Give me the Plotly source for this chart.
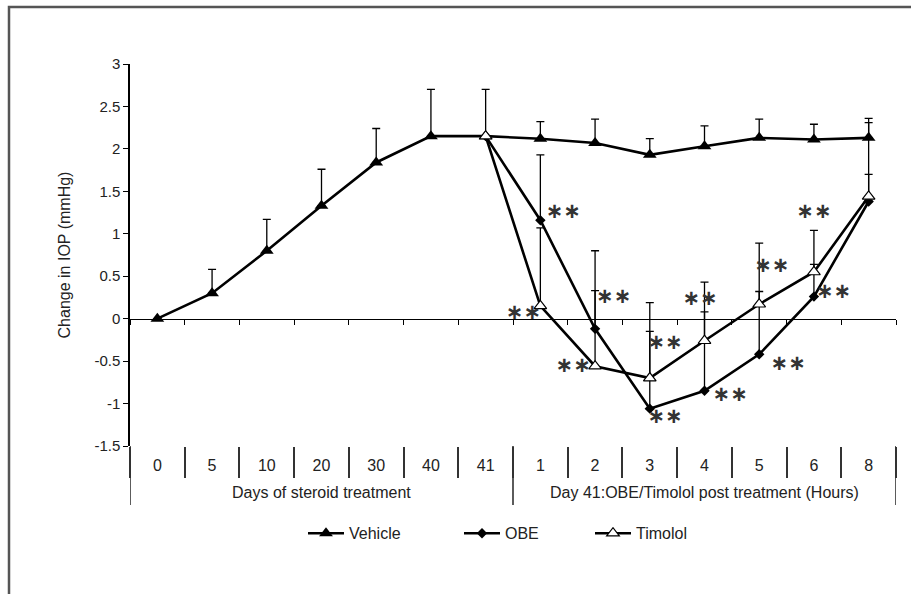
import plotly.graph_objects as go

# ---------------- data ----------------
group_names = ["Days of steroid treatment", "Day 41:OBE/Timolol post treatment (Hours)"]
group_sizes = [7, 7]
categories = ["0", "5", "10", "20", "30", "40", "41", "1", "2", "3", "4", "5", "6", "8"]

vehicle = [0.0, 0.30, 0.80, 1.33, 1.84, 2.15, 2.15, 2.12, 2.07, 1.93, 2.03, 2.13, 2.11, 2.13]
vehicle_err = [0.0, 0.28, 0.37, 0.43, 0.40, 0.55, 0.55, 0.20, 0.28, 0.19, 0.24, 0.22, 0.18, 0.23]

obe = [None, None, None, None, None, None, 2.15, 1.16, -0.12, -1.06, -0.85, -0.42, 0.26, 1.38]
obe_err = [0, 0, 0, 0, 0, 0, 0, 0.77, 0.92, 0.91, 0.93, 0.74, 0.38, 0.93]

timolol = [None, None, None, None, None, None, 2.15, 0.15, -0.56, -0.70, -0.26, 0.17, 0.55, 1.44]
timolol_err = [0, 0, 0, 0, 0, 0, 0, 0.92, 0.89, 0.89, 0.69, 0.72, 0.49, 0.26]

# significance marks (category index position, value)
sig_x = [7.42, 6.69, 8.34, 7.60, 9.28, 9.28, 9.92, 10.47, 11.23, 11.53, 12.0, 12.36]
sig_y = [1.25, 0.06, 0.25, -0.57, -0.30, -1.17, 0.22, -0.91, 0.61, -0.54, 1.25, 0.31]
sig_label = "\u2217\u2217"

y_tickvals = [3, 2.5, 2, 1.5, 1, 0.5, 0, -0.5, -1, -1.5]
y_ticktext = ["3", "2.5", "2", "1.5", "1", "0.5", "0", "-0.5", "-1", "-1.5"]
y_range = [-1.5, 3]

# ---------------- figure ----------------
FONT = "Liberation Sans, Arial, sans-serif"
TXT = "#222222"
n = len(categories)
xi = list(range(n))
boundaries = [i - 0.5 for i in range(n + 1)]

group_edges = [-0.5]
for s in group_sizes:
    group_edges.append(group_edges[-1] + s)
group_centers = [(group_edges[i] + group_edges[i + 1]) / 2 for i in range(len(group_sizes))]


def up_only(errs):
    return dict(type="data", array=errs, arrayminus=[0] * len(errs), symmetric=False,
                color="black", thickness=1.3, width=4)


fig = go.Figure()
fig.add_trace(go.Scatter(
    x=xi, y=vehicle, name="Vehicle", mode="lines+markers", legendwidth=105,
    line=dict(color="black", width=2.6),
    marker=dict(symbol="triangle-up", size=12, color="black"),
    error_y=up_only(vehicle_err),
))
fig.add_trace(go.Scatter(
    x=xi, y=obe, name="OBE", mode="lines+markers", legendwidth=80,
    line=dict(color="black", width=2.6),
    marker=dict(symbol="diamond", size=8, color="black"),
    error_y=up_only(obe_err),
))
fig.add_trace(go.Scatter(
    x=xi, y=timolol, name="Timolol", mode="lines+markers", legendwidth=90,
    line=dict(color="black", width=2.6),
    marker=dict(symbol="triangle-up", size=11, color="white", line=dict(color="black", width=1.2)),
    error_y=up_only(timolol_err),
))
fig.add_trace(go.Scatter(
    x=sig_x, y=sig_y, text=[sig_label] * len(sig_x), mode="text", xaxis="x2", yaxis="y",
    textfont=dict(family="DejaVu Sans, sans-serif", size=21, color="#333333", weight="bold"),
    showlegend=False, hoverinfo="skip",
))

zero_pos = (0 - y_range[0]) / (y_range[1] - y_range[0])

PLOT_H = 594 - 64 - 148
shapes = [dict(type="rect", xref="paper", yref="paper",
               x0=(9 - 130) / 766, x1=1.2, y0=-0.6, y1=(PLOT_H + 64 - 7) / PLOT_H,
               line=dict(color="#555555", width=2.5), layer="below")]
for e in group_edges:
    shapes.append(dict(type="line", xref="x", yref="paper", x0=e, x1=e, y0=0, y1=-59 / PLOT_H,
                       line=dict(color="#333333", width=1.6)))

annotations = [dict(text=g, x=c, xref="x", y=-46 / PLOT_H, yref="paper", yanchor="middle",
                    showarrow=False, font=dict(family=FONT, size=16, color=TXT))
               for g, c in zip(group_names, group_centers)]

fig.update_layout(
    width=911, height=594,
    margin=dict(l=130, r=15, t=64, b=148),
    paper_bgcolor="white", plot_bgcolor="white",
    font=dict(family=FONT, size=16, color=TXT),
    showlegend=True,
    legend=dict(orientation="h", x=(303 - 130) / 766, xanchor="left", y=-(533 - 445.7) / PLOT_H,
                yanchor="middle", font=dict(family=FONT, size=16, color=TXT), itemwidth=36,
                bgcolor="rgba(0,0,0,0)"),
    xaxis=dict(
        type="linear", range=[-0.5, n - 0.5], tickvals=xi, ticktext=categories,
        showgrid=False, zeroline=False, showline=False, ticks="",
        ticklabelstandoff=8,
        tickfont=dict(family=FONT, size=16, color=TXT),
        minor=dict(tickvals=boundaries, ticks="outside", ticklen=31, tickwidth=1.6,
                   tickcolor="#333333", showgrid=False),
    ),
    xaxis2=dict(
        overlaying="x", anchor="free", position=zero_pos, type="linear",
        range=[-0.5, n - 0.5], tickvals=boundaries,
        ticks="outside", ticklen=5, tickwidth=1, tickcolor="black",
        showticklabels=False, showgrid=False, zeroline=False,
        showline=True, linecolor="black", linewidth=1.2,
    ),
    yaxis=dict(
        range=y_range, tickvals=y_tickvals, ticktext=y_ticktext,
        showgrid=False, zeroline=False, showline=True, linecolor="black", linewidth=1.5,
        ticks="outside", ticklen=5, tickcolor="black",
        tickfont=dict(family=FONT, size=15, color=TXT),
        title=dict(text="Change in IOP (mmHg)", font=dict(family=FONT, size=16, color=TXT), standoff=20),
    ),
    shapes=shapes,
    annotations=annotations,
)

fig.write_html("out.html", config={"displayModeBar": False},
               post_script="document.body.style.margin='0';")
